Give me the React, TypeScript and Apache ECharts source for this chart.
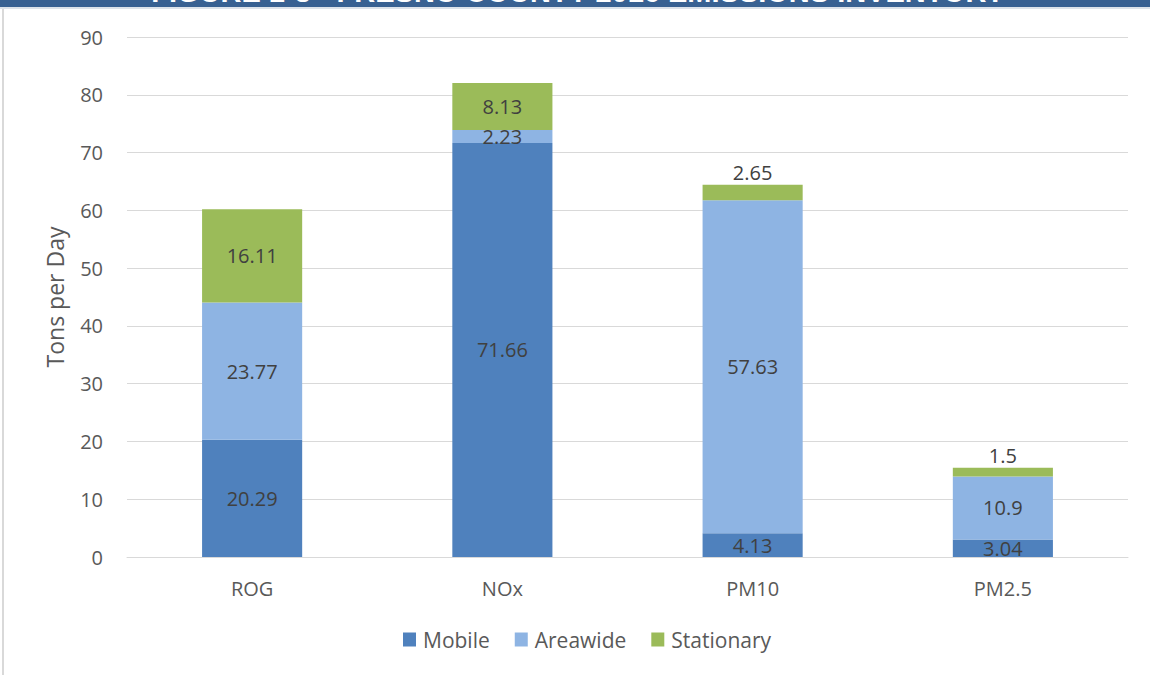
import React, { useEffect, useRef } from "react";
import * as echarts from "echarts";

const categories = ["ROG", "NOx", "PM10", "PM2.5"];
const mobile = [20.29, 71.66, 4.13, 3.04];
const areawide = [23.77, 2.23, 57.63, 10.9];
const stationary = [16.11, 8.13, 2.65, 1.5];
const yTicks = [0, 10, 20, 30, 40, 50, 60, 70, 80, 90];
const titleText = "FIGURE 1-3 - FRESNO COUNTY 2016 EMISSIONS INVENTORY";

const FONT = "'Open Sans', 'Noto Sans', sans-serif";
const labelStyle = { show: true, position: "inside", color: "#404040", fontSize: 20, fontFamily: FONT };

export default function App() {
  const ref = useRef<HTMLDivElement>(null);
  useEffect(() => {
    const chart = echarts.init(ref.current!, null, { renderer: "svg" });
    const stationaryData = stationary.map((v, i) => {
      const small = v < 3 && i >= 2;
      return small
        ? { value: v, label: { show: true, position: "top", distance: 2, color: "#404040", fontSize: 20, fontFamily: FONT } }
        : { value: v };
    });
    chart.setOption({
      animation: false,
      backgroundColor: "#ffffff",
      textStyle: { fontFamily: FONT },
      grid: { left: 127, right: 22, top: 37, bottom: 118 },
      legend: {
        data: ["Mobile", "Areawide", "Stationary"],
        bottom: 20,
        left: 398,
        itemWidth: 13,
        itemHeight: 14,
        itemGap: 25,
        icon: "rect",
        textStyle: { color: "#595959", fontSize: 21, fontFamily: FONT, padding: [0, 0, 0, 2] },
      },
      xAxis: {
        type: "category",
        data: categories,
        axisLine: { lineStyle: { color: "#d9d9d9", width: 1 } },
        axisTick: { show: false },
        axisLabel: { color: "#595959", fontSize: 20, margin: 21, fontFamily: FONT },
      },
      yAxis: {
        type: "value",
        min: yTicks[0],
        max: yTicks[yTicks.length - 1],
        interval: 10,
        name: "Tons per Day",
        nameLocation: "middle",
        nameGap: 61,
        nameTextStyle: { color: "#595959", fontSize: 23, fontFamily: FONT },
        axisLine: { show: false },
        axisTick: { show: false },
        axisLabel: { color: "#595959", fontSize: 20, margin: 24, fontFamily: FONT },
        splitLine: { lineStyle: { color: "#d9d9d9", width: 1 } },
      },
      series: [
        { name: "Mobile", type: "bar", stack: "t", barWidth: "40%", data: mobile, itemStyle: { color: "#4f81bd" }, label: labelStyle },
        { name: "Areawide", type: "bar", stack: "t", barWidth: "40%", data: areawide, itemStyle: { color: "#8eb4e3" }, label: labelStyle },
        { name: "Stationary", type: "bar", stack: "t", barWidth: "40%", data: stationaryData, itemStyle: { color: "#9bbb59" }, label: labelStyle },
      ],
      graphic: [
        { type: "rect", left: 0, top: 0, shape: { x: 0, y: 0, width: 1150, height: 7 }, style: { fill: "#386192" }, z: 10 },
        { type: "rect", left: 0, top: 7, shape: { x: 0, y: 0, width: 1150, height: 2 }, style: { fill: "#dde3ea" }, z: 10 },
        { type: "rect", left: 2, top: 9, shape: { x: 0, y: 0, width: 2, height: 666 }, style: { fill: "#d9d9d9" }, z: 10 },
        {
          type: "text",
          x: 578,
          y: 6,
          z: 11,
          style: {
            text: titleText,
            fill: "#ffffff",
            font: "bold 29px 'Liberation Sans', Arial, sans-serif",
            textAlign: "center",
            textVerticalAlign: "bottom",
          },
        },
      ],
    });
    return () => chart.dispose();
  }, []);
  return <div ref={ref} style={{ position: "fixed", left: 0, top: 0, width: 1150, height: 675 }} />;
}
